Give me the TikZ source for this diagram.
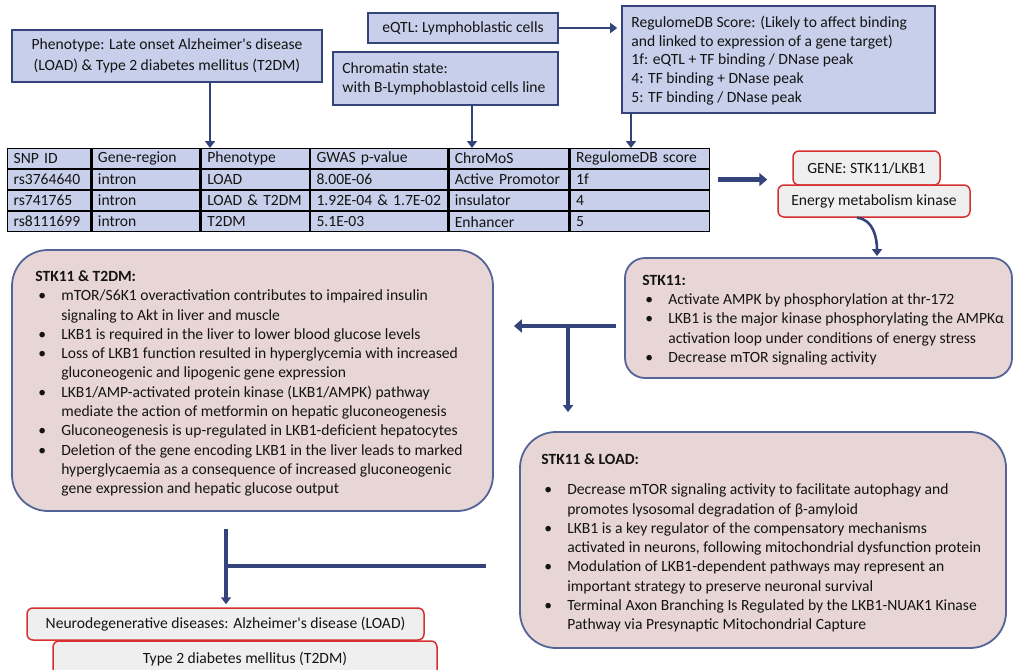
\documentclass[tikz,border=0pt]{standalone}
\usepackage{fontspec}
\setmainfont{Carlito}
\usetikzlibrary{arrows.meta,matrix,calc}
\definecolor{navy}{RGB}{52,68,122}
\definecolor{bluefill}{RGB}{199,207,234}
\definecolor{pinkfill}{RGB}{231,214,213}
\definecolor{pinkline}{RGB}{84,100,150}
\definecolor{redline}{RGB}{214,48,48}
\definecolor{grayfill}{RGB}{239,239,239}
\definecolor{textc}{RGB}{20,20,20}
\newcommand\bodyfont{\fontsize{15.6}{19.3}\selectfont}
\newcommand\bl{\makebox[26pt][l]{\hspace{3pt}\textbullet}}
\newcommand\cl{\hspace*{26pt}}
\newcommand\apos{\textquotesingle}
\begin{document}
\begin{tikzpicture}[x=1pt,y=-1pt,
  txt/.style={align=left, inner sep=0pt, font=\bodyfont, text=textc},
  bluebox/.style={draw=navy, line width=1.6pt, fill=bluefill, inner sep=0pt, font=\bodyfont, text=textc},
  pinkbox/.style={draw=pinkline, line width=1.8pt, fill=pinkfill, rounded corners=30pt, inner sep=0pt},
  graybox/.style={draw=redline, line width=1.5pt, fill=grayfill, rounded corners=6pt, inner sep=0pt, font=\bodyfont, text=textc},
  arr/.style={draw=navy, line width=2.6pt, -{Triangle[width=10pt,length=7pt]}},
  fatarr/.style={draw=navy, line width=4.5pt, -{Triangle[width=13pt,length=8pt]}},
  fatline/.style={draw=navy, line width=4.5pt},
]
\useasboundingbox (0,0) rectangle (1016,669);
\clip (0,0) rectangle (1016,669);

% top boxes
\node[bluebox, minimum width=310pt, minimum height=52pt, align=center,
      font={\fontsize{15.6}{21}\selectfont}] (pheno) at (167,56)
  {Phenotype: Late onset Alzheimer\apos s disease\\(LOAD) \& Type 2 diabetes mellitus (T2DM)};
\node[bluebox, minimum width=190pt, minimum height=30pt] (eqtl) at (463,28)
  {eQTL: Lymphoblastic cells};
\node[bluebox, minimum width=225pt, minimum height=53pt] (chrom) at (445.5,78.5) {};
\node[txt, anchor=west, font={\fontsize{15.6}{19}\selectfont}] (chromtxt) at ([xshift=10pt]chrom.west)
  {Chromatin state:\\with B-Lymphoblastoid cells line};
\node[bluebox, minimum width=313pt, minimum height=107pt] (reg) at (778.5,59.5) {};
\node[txt, anchor=west, font={\fontsize{15.6}{18.7}\selectfont}] (regtxt) at ([xshift=10pt,yshift=-1pt]reg.west)
  {RegulomeDB Score: (Likely to affect binding\\and linked to expression of a gene target)\\1f: eQTL + TF binding / DNase peak\\4: TF binding + DNase peak\\5: TF binding / DNase peak};

% table
\matrix (tab) [matrix of nodes, anchor=north west, inner sep=0pt, outer sep=0pt,
  column sep=0pt, row sep=0pt,
  nodes={draw=black, line width=1.3pt, fill=bluefill, minimum height=19.75pt,
         inner xsep=6pt, inner ysep=0pt, outer sep=0pt, align=left,
         font=\bodyfont, text=textc, anchor=center},
  column 1/.style={nodes={text width=71pt}},
  column 2/.style={nodes={text width=96pt}},
  column 3/.style={nodes={text width=96pt}},
  column 4/.style={nodes={text width=125pt}},
  column 5/.style={nodes={text width=108pt}},
  column 6/.style={nodes={text width=127pt}}] at (7,148) {
SNP ID & Gene-region & Phenotype & GWAS p-value & ChroMoS & RegulomeDB score \\
rs3764640 & intron & LOAD & 8.00E-06 & Active Promotor & 1f \\
rs741765 & intron & LOAD \& T2DM & 1.92E-04 \& 1.7E-02 & insulator & 4 \\
rs8111699 & intron & T2DM & 5.1E-03 & Enhancer & 5 \\
};

% gene boxes
\node[graybox, minimum width=147pt, minimum height=34pt] (gene) at (866.5,168) {GENE: STK11/LKB1};
\node[graybox, minimum width=192pt, minimum height=32pt] (energy) at (874,201) {Energy metabolism kinase};

% pink boxes
\node[pinkbox, minimum width=387pt, minimum height=120pt, rounded corners=20pt] (stk) at (818.5,318) {};
\node[txt, anchor=west] (stktxt) at ([xshift=18pt,yshift=-2pt]stk.west)
  {\textbf{STK11:}\\
   \bl Activate AMPK by phosphorylation at thr-172\\
   \bl LKB1 is the major kinase phosphorylating the AMPKα\\
   \cl activation loop under conditions of energy stress\\
   \bl Decrease mTOR signaling activity};

\node[pinkbox, minimum width=481pt, minimum height=261pt, rounded corners=36pt] (t2dm) at (252.5,380.5) {};
\node[txt, anchor=west] (t2dmtxt) at ([xshift=24pt,yshift=-3pt]t2dm.west)
  {\textbf{STK11 \& T2DM:}\\
   \bl mTOR/S6K1 overactivation contributes to impaired insulin\\
   \cl signaling to Akt in liver and muscle\\
   \bl LKB1 is required in the liver to lower blood glucose levels\\
   \bl Loss of LKB1 function resulted in hyperglycemia with increased\\
   \cl gluconeogenic and lipogenic gene expression\\
   \bl LKB1/AMP-activated protein kinase (LKB1/AMPK) pathway\\
   \cl mediate the action of metformin on hepatic gluconeogenesis\\
   \bl Gluconeogenesis is up-regulated in LKB1-deficient hepatocytes\\
   \bl Deletion of the gene encoding LKB1 in the liver leads to marked\\
   \cl hyperglycaemia as a consequence of increased gluconeogenic\\
   \cl gene expression and hepatic glucose output};

\node[pinkbox, minimum width=486pt, minimum height=216pt, rounded corners=36pt] (load) at (763,540) {};
\node[txt, anchor=west] (loadtxt) at ([xshift=22pt,yshift=-3pt]load.west)
  {\textbf{STK11 \& LOAD:}\\[11pt]
   \bl Decrease mTOR signaling activity to facilitate autophagy and\\
   \cl promotes lysosomal degradation of β-amyloid\\
   \bl LKB1 is a key regulator of the compensatory mechanisms\\
   \cl activated in neurons, following mitochondrial dysfunction protein\\
   \bl Modulation of LKB1-dependent pathways may represent an\\
   \cl important strategy to preserve neuronal survival\\
   \bl Terminal Axon Branching Is Regulated by the LKB1-NUAK1 Kinase\\
   \cl Pathway via Presynaptic Mitochondrial Capture};

% bottom boxes
\node[graybox, minimum width=397pt, minimum height=32pt] (neuro) at (225.5,624)
  {Neurodegenerative diseases: Alzheimer\apos s disease (LOAD)};
\node[graybox, minimum width=384pt, minimum height=36pt] (t2dmb) at (245,659)
  {Type 2 diabetes mellitus (T2DM)};

% connectors top
\draw[arr] (eqtl.east) -- ([xshift=-4pt]reg.west |- eqtl.east);
\draw[arr] ([xshift=43pt]pheno.south) -- ([xshift=43pt]pheno.south |- tab.north);
\draw[arr] ([xshift=26.5pt]chrom.south) -- ([xshift=26.5pt]chrom.south |- tab.north);
\draw[arr] ([xshift=-147.5pt]reg.south) -- ([xshift=-147.5pt]reg.south |- tab.north);
\draw[fatarr] ([xshift=9pt]tab-2-6.east) -- ([xshift=-10pt]tab-2-6.east -| energy.west);
\draw[arr] ([xshift=-17pt]energy.south) to[out=-5,in=90] ([xshift=58.5pt,yshift=1pt]stk.north);

% middle T connector
\coordinate (tj) at (568,326);
\draw[fatarr] ([xshift=-8pt]stk.west |- tj) -- ([xshift=20pt]t2dm.east |- tj);
\draw[arr, line width=4pt] (tj) -- ([yshift=19pt]load.north -| tj);

% bottom connector
\coordinate (bj) at (226,566);
\draw[arr, line width=4pt] ([yshift=-17pt]t2dm.south -| bj) -- ([yshift=3pt]neuro.north -| bj);
\draw[fatline] (bj) -- ([xshift=-33pt]load.west |- bj);
\end{tikzpicture}
\end{document}
